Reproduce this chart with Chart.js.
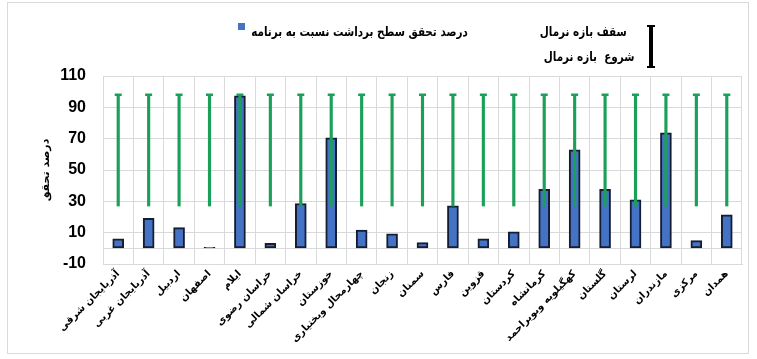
<!DOCTYPE html>
<html><head><meta charset="utf-8">
<script src="https://cdn.jsdelivr.net/npm/chart.js@4"></script>
<style>
html,body{margin:0;padding:0;background:#fff;}
#wrap{position:relative;width:757px;height:359px;overflow:hidden;}
#frame{position:absolute;left:7px;top:2px;width:742px;height:352px;border:1px solid #d9d9d9;box-sizing:border-box;pointer-events:none;}
canvas{position:absolute;left:0;top:0;}
.lg{position:absolute;font-family:"DejaVu Sans";font-weight:bold;font-size:13px;line-height:15px;color:#000;white-space:nowrap;direction:rtl;transform:scaleX(0.8);transform-origin:right center;}
</style></head>
<body><div id="wrap">
<div id="frame"></div>
<canvas id="c" width="757" height="359"></canvas>
<div style="position:absolute;left:238px;top:23px;width:7px;height:7px;background:#4472C4;"></div>
<div class="lg" id="lg1" style="right:289px;top:24px;">درصد تحقق سطح برداشت نسبت به برنامه</div>
<div class="lg" id="lg2" style="right:130px;top:24px;">سقف بازه نرمال</div>
<div class="lg" id="lg3" style="right:122px;top:49px;">شروع&nbsp; بازه نرمال</div>
<div style="position:absolute;left:649px;top:25px;width:4px;height:43px;background:#000;"></div>
<div style="position:absolute;left:647px;top:25px;width:8px;height:2px;background:#000;"></div>
<div style="position:absolute;left:647px;top:66px;width:8px;height:2px;background:#000;"></div>
</div>
<script>
const categories = ["آذربایجان شرقی","آذربایجان غربی","اردبیل","اصفهان","ایلام","خراسان رضوی","خراسان شمالی","خوزستان","چهارمحال وبختیاری","زنجان","سمنان","فارس","قزوین","کردستان","کرمانشاه","کهگیلویه وبویراحمد","گلستان","لرستان","مازندران","مرکزی","همدان"];
const realization = [6.1, 19.1, 13.2, 0.6, 97.4, 3.2, 28.5, 70.6, 11.7, 9.3, 3.6, 27.2, 6.1, 10.6, 37.6, 62.9, 37.6, 31.0, 73.8, 4.9, 21.4];
const normalLow = [27, 27, 27, 27, 27, 27, 27, 27, 27, 27, 27, 27, 27, 27, 27, 27, 27, 27, 27, 27, 27];
const normalHigh = [98, 98, 98, 98, 98, 98, 98, 98, 98, 98, 98, 98, 98, 98, 98, 98, 98, 98, 98, 98, 98];
const yTickValues = [-10, 0, 10, 30, 50, 70, 90, 110];
const yAxisTitle = "درصد تحقق";

const ranges = normalLow.map((lo, i) => [lo, normalHigh[i]]);

new Chart(document.getElementById('c'), {
  type: 'bar',
  data: {
    labels: categories,
    datasets: [
      { label: 'درصد تحقق سطح برداشت نسبت به برنامه', data: realization, backgroundColor: '#4472C4', borderColor: '#141E33', borderWidth: 2, borderSkipped: false, barThickness: 11, grouped: false, order: 3 },
      { label: 'بازه نرمال', data: ranges, backgroundColor: '#1BA05A', borderWidth: 0, barThickness: 2.5, grouped: false, order: 2 },
      { type: 'line', label: 'سقف بازه نرمال', data: normalHigh, showLine: false, pointStyle: 'line', pointRadius: 3.5, pointBorderWidth: 2.5, pointBorderColor: '#1BA05A', pointBackgroundColor: '#1BA05A', order: 1 }
    ]
  },
  options: {
    responsive: false,
    animation: false,
    layout: { padding: { left: 40, right: 15, top: 76, bottom: 5 } },
    plugins: { legend: { display: false }, tooltip: { enabled: false } },
    scales: {
      x: {
        grid: { color: '#d9d9d9', offset: true, drawTicks: false },
        border: { color: '#d9d9d9' },
        ticks: { autoSkip: false, minRotation: 45, maxRotation: 45, padding: 4, color: '#000', font: { family: 'DejaVu Sans', weight: 'bold', size: 10 } },
        afterFit: (s) => { s.height = 90; }
      },
      y: {
        min: -10, max: 110,
        afterBuildTicks: (s) => { s.ticks = yTickValues.map(v => ({ value: v })); },
        grid: { color: '#d9d9d9', drawTicks: false },
        border: { color: '#d9d9d9' },
        ticks: { padding: 17, color: '#000', font: { family: 'Liberation Sans', weight: 'bold', size: 16 }, callback: (v) => v === 0 ? '' : v },
        title: { display: true, text: yAxisTitle, color: '#000', font: { family: 'DejaVu Sans', weight: 'bold', size: 11 }, padding: 0 },
        afterFit: (s) => { s.width = 63; }
      }
    }
  }
});
</script>
</body></html>
